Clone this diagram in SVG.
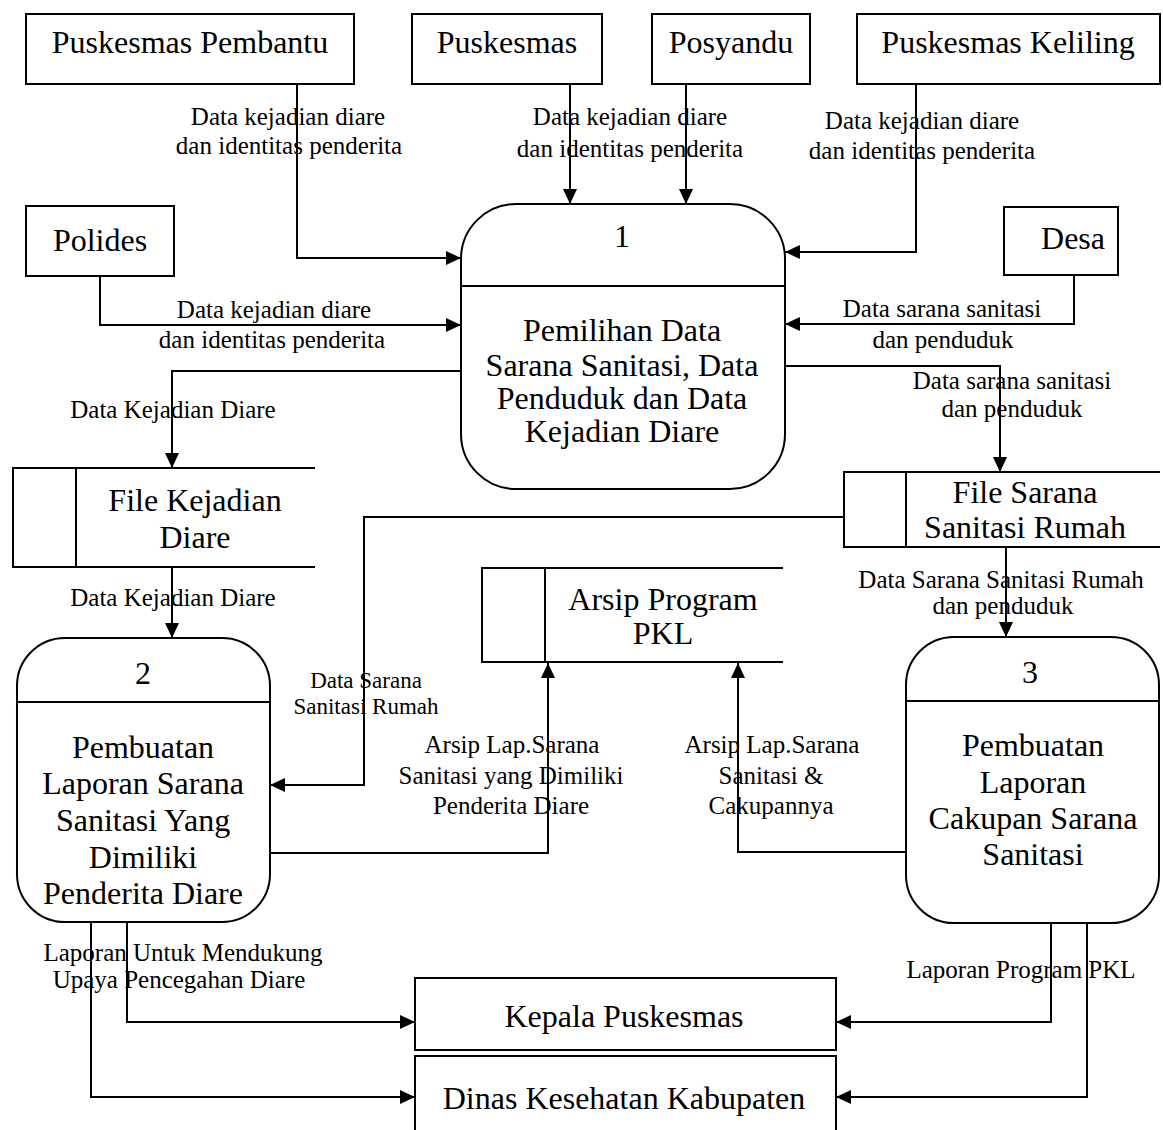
<svg xmlns="http://www.w3.org/2000/svg" width="1163" height="1130" viewBox="0 0 1163 1130">
  <style>
    .box { fill: #fff; stroke: #000; stroke-width: 2; }
    .ln { fill: none; stroke: #000; stroke-width: 2; }
    .flow { fill: none; stroke: #000; stroke-width: 2; marker-end: url(#arrow); }
    .nt { font-family: "Liberation Serif", "Times New Roman", serif; font-size: 32px; text-anchor: middle; fill: #000; }
    .ft { font-family: "Liberation Serif", "Times New Roman", serif; font-size: 25px; text-anchor: middle; fill: #000; }
    .fs { font-family: "Liberation Serif", "Times New Roman", serif; font-size: 23px; text-anchor: middle; fill: #000; }
  </style>
  <defs>
    <marker id="arrow" markerUnits="userSpaceOnUse" markerWidth="16" markerHeight="14" refX="15" refY="7" orient="auto">
      <path d="M0,0 L15,7 L0,14 z" fill="#000"/>
    </marker>
  </defs>
  <rect width="1163" height="1130" fill="#fff"/>

  <!-- connectors -->
  <g id="connectors">
    <path class="flow" d="M297,84 V258 H461"/>
    <path class="flow" d="M570,84 V204"/>
    <path class="flow" d="M686,84 V204"/>
    <path class="flow" d="M916,84 V252 H785"/>
    <path class="flow" d="M100,276 V325 H461"/>
    <path class="flow" d="M1074,275 V324 H785"/>
    <path class="flow" d="M785,366 H1000 V472"/>
    <path class="flow" d="M461,371 H172 V468"/>
    <path class="flow" d="M172,567 V638"/>
    <path class="flow" d="M844,517 H364 V785 H270"/>
    <path class="flow" d="M1006,547 V637"/>
    <path class="flow" d="M270,853 H548 V663"/>
    <path class="flow" d="M906,852 H738 V663"/>
    <path class="flow" d="M127,922 V1022 H415"/>
    <path class="flow" d="M91,922 V1097 H415"/>
    <path class="flow" d="M1051,923 V1022 H836"/>
    <path class="flow" d="M1087,923 V1097 H836"/>

    <text class="ft" x="288" y="125">Data kejadian diare</text>
    <text class="ft" x="289" y="154">dan identitas penderita</text>
    <text class="ft" x="630" y="125">Data kejadian diare</text>
    <text class="ft" x="630" y="157">dan identitas penderita</text>
    <text class="ft" x="922" y="129">Data kejadian diare</text>
    <text class="ft" x="922" y="159">dan identitas penderita</text>
    <text class="ft" x="274" y="318">Data kejadian diare</text>
    <text class="ft" x="272" y="348">dan identitas penderita</text>
    <text class="ft" x="942" y="317">Data sarana sanitasi</text>
    <text class="ft" x="943" y="348">dan penduduk</text>
    <text class="ft" x="1012" y="389">Data sarana sanitasi</text>
    <text class="ft" x="1012" y="417">dan penduduk</text>
    <text class="ft" x="173" y="418">Data Kejadian Diare</text>
    <text class="ft" x="173" y="606">Data Kejadian Diare</text>
    <text class="fs" x="366" y="688">Data Sarana</text>
    <text class="fs" x="366" y="714">Sanitasi Rumah</text>
    <text class="ft" x="1001" y="588">Data Sarana Sanitasi Rumah</text>
    <text class="ft" x="1003" y="614">dan penduduk</text>
    <text class="ft" x="512" y="753">Arsip Lap.Sarana</text>
    <text class="ft" x="511" y="784">Sanitasi yang Dimiliki</text>
    <text class="ft" x="511" y="814">Penderita Diare</text>
    <text class="ft" x="772" y="753">Arsip Lap.Sarana</text>
    <text class="ft" x="771" y="784">Sanitasi &amp;</text>
    <text class="ft" x="771" y="814">Cakupannya</text>
    <text class="ft" x="183" y="961">Laporan Untuk Mendukung</text>
    <text class="ft" x="179" y="988">Upaya Pencegahan Diare</text>
    <text class="ft" x="1021" y="978">Laporan Program PKL</text>
  </g>

  <!-- external entities -->
  <g id="puskesmas-pembantu">
    <rect class="box" x="26" y="14" width="328" height="70"/>
    <text class="nt" x="190" y="53">Puskesmas Pembantu</text>
  </g>
  <g id="puskesmas">
    <rect class="box" x="412" y="14" width="190" height="70"/>
    <text class="nt" x="507" y="53">Puskesmas</text>
  </g>
  <g id="posyandu">
    <rect class="box" x="652" y="14" width="158" height="70"/>
    <text class="nt" x="731" y="53">Posyandu</text>
  </g>
  <g id="puskesmas-keliling">
    <rect class="box" x="857" y="14" width="303" height="70"/>
    <text class="nt" x="1008" y="53">Puskesmas Keliling</text>
  </g>
  <g id="polides">
    <rect class="box" x="26" y="206" width="148" height="70"/>
    <text class="nt" x="100" y="251">Polides</text>
  </g>
  <g id="desa">
    <rect class="box" x="1004" y="207" width="114" height="68"/>
    <text class="nt" x="1073" y="249">Desa</text>
  </g>
  <g id="kepala-puskesmas">
    <rect class="box" x="415" y="978" width="421" height="72"/>
    <text class="nt" x="624" y="1027">Kepala Puskesmas</text>
  </g>
  <g id="dinas-kesehatan">
    <rect class="box" x="415" y="1056" width="421" height="90"/>
    <text class="nt" x="624" y="1109">Dinas Kesehatan Kabupaten</text>
  </g>

  <!-- processes -->
  <g id="process-1">
    <rect class="box" x="461" y="204" width="324" height="285" rx="55" ry="55"/>
    <path class="ln" d="M461,286 H785"/>
    <text class="nt" x="622" y="247">1</text>
    <text class="nt" x="622" y="341">Pemilihan Data</text>
    <text class="nt" x="622" y="376">Sarana Sanitasi, Data</text>
    <text class="nt" x="622" y="409">Penduduk dan Data</text>
    <text class="nt" x="622" y="442">Kejadian Diare</text>
  </g>
  <g id="process-2">
    <rect class="box" x="17" y="638" width="253" height="284" rx="48" ry="48"/>
    <path class="ln" d="M17,702 H270"/>
    <text class="nt" x="143" y="684">2</text>
    <text class="nt" x="143" y="758">Pembuatan</text>
    <text class="nt" x="143" y="794">Laporan Sarana</text>
    <text class="nt" x="143" y="831">Sanitasi Yang</text>
    <text class="nt" x="143" y="868">Dimiliki</text>
    <text class="nt" x="143" y="904">Penderita Diare</text>
  </g>
  <g id="process-3">
    <rect class="box" x="906" y="637" width="253" height="286" rx="48" ry="48"/>
    <path class="ln" d="M906,701 H1159"/>
    <text class="nt" x="1030" y="683">3</text>
    <text class="nt" x="1033" y="756">Pembuatan</text>
    <text class="nt" x="1033" y="793">Laporan</text>
    <text class="nt" x="1033" y="829">Cakupan Sarana</text>
    <text class="nt" x="1033" y="865">Sanitasi</text>
  </g>

  <!-- data stores -->
  <g id="file-kejadian-diare">
    <path class="ln" d="M315,468 H13 V567 H315 M76,468 V567"/>
    <text class="nt" x="195" y="511">File Kejadian</text>
    <text class="nt" x="195" y="548">Diare</text>
  </g>
  <g id="file-sarana-sanitasi">
    <path class="ln" d="M1160,472 H844 V547 H1160 M906,472 V547"/>
    <text class="nt" x="1025" y="503">File Sarana</text>
    <text class="nt" x="1025" y="538">Sanitasi Rumah</text>
  </g>
  <g id="arsip-program-pkl">
    <path class="ln" d="M783,568 H482 V662 H783 M545,568 V662"/>
    <text class="nt" x="663" y="610">Arsip Program</text>
    <text class="nt" x="663" y="644">PKL</text>
  </g>
</svg>
